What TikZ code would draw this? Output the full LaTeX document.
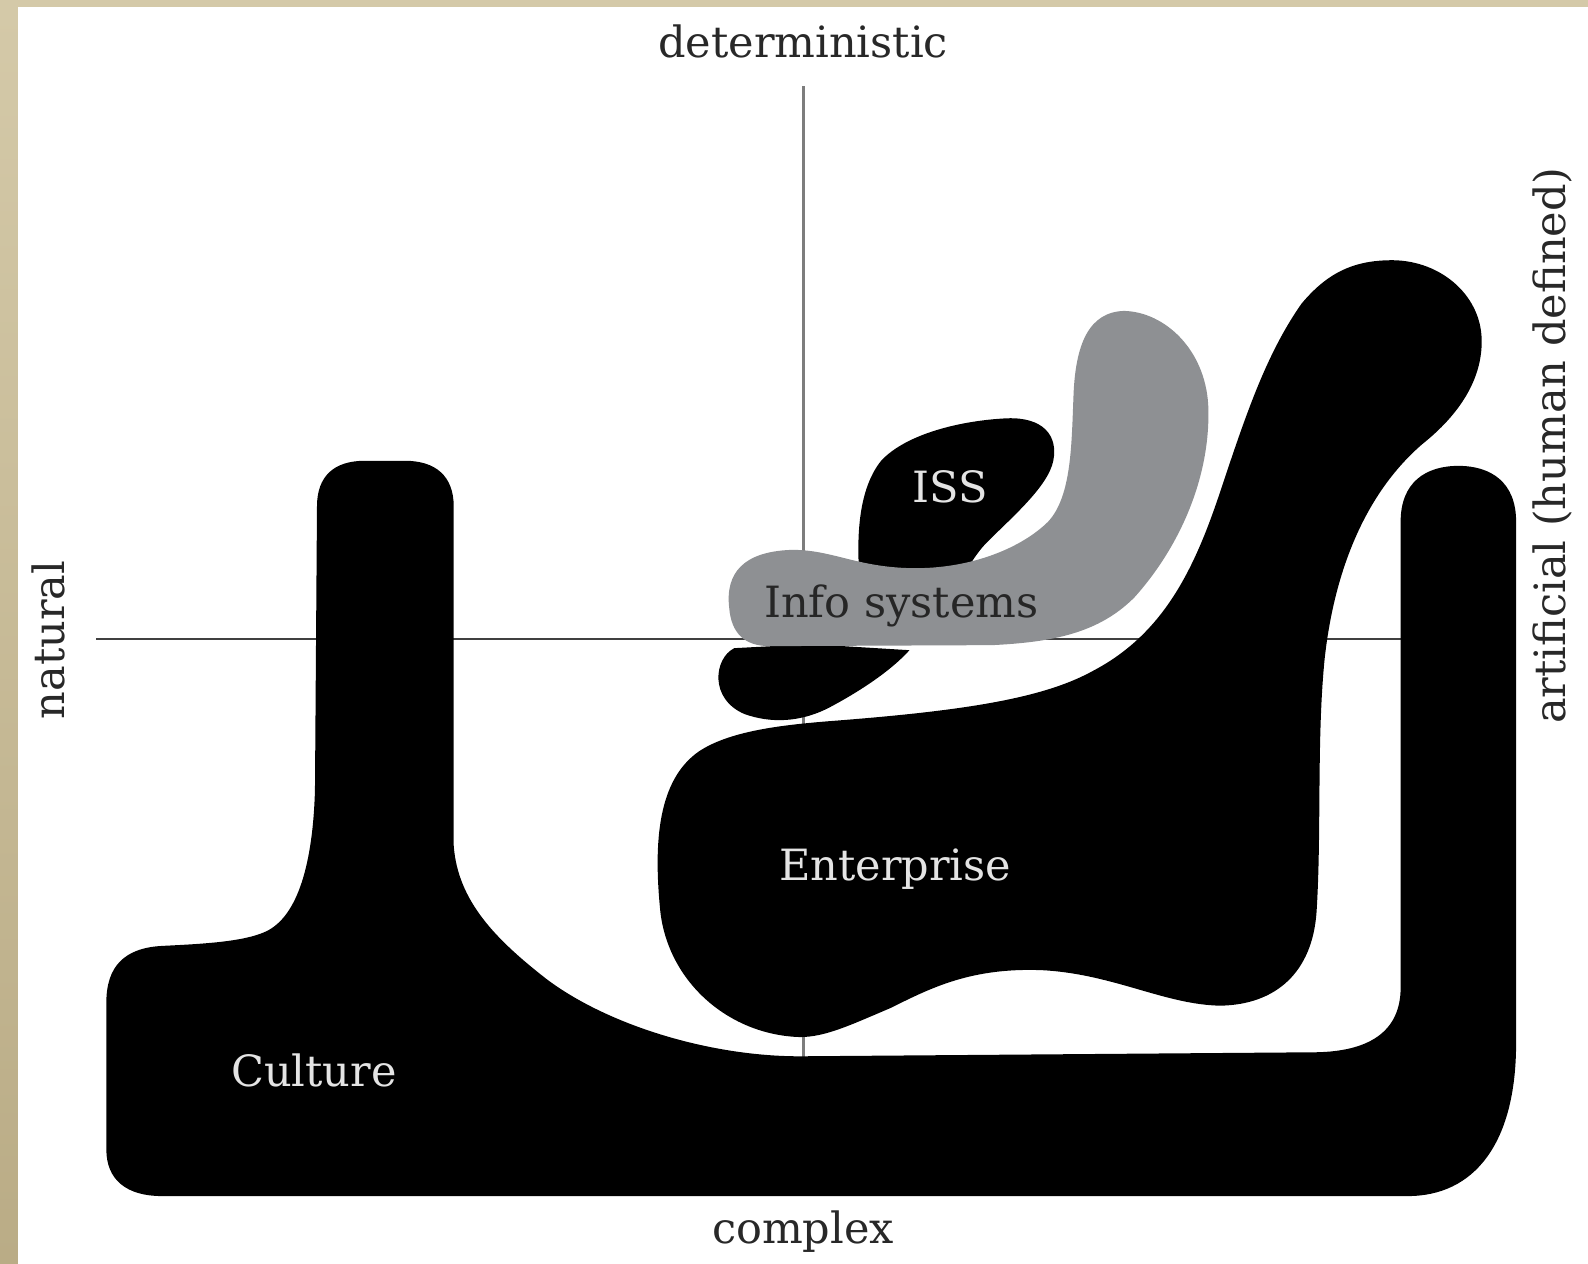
\documentclass[tikz,border=0pt]{standalone}
\usepackage{fontspec}
\setmainfont{DejaVu Serif}
\definecolor{beige}{RGB}{212,201,168}
\definecolor{beigedark}{RGB}{186,172,134}
\definecolor{blobgray}{RGB}{142,144,147}
\definecolor{axisgray}{RGB}{125,125,125}
\definecolor{labelcol}{RGB}{40,40,40}
\definecolor{intext}{RGB}{228,228,228}
\tikzset{
  blob/.style={fill=black},
  grayblob/.style={fill=blobgray},
  axislabel/.style={text=labelcol, font=\fontsize{24.5}{28}\selectfont, inner sep=0pt, anchor=base},
  inlabel/.style={text=intext, font=\fontsize{24.5}{28}\selectfont, inner sep=0pt, anchor=base},
  islabel/.style={text=black!85, font=\fontsize{24.5}{28}\selectfont, inner sep=0pt, anchor=base},
}
\begin{document}
\begin{tikzpicture}[x=0.020255cm,y=-0.020255cm]
\useasboundingbox (0,0) rectangle (1568,1248);
\fill[beige] (0,0) rectangle (1568,1248);
\shade[top color=beige,bottom color=beigedark] (0,7) rectangle (18,1248);
\fill[white] (18,7) rectangle (1568,1248);

% axes
\coordinate (vtop) at (793,85);
\coordinate (vbot) at (793,1045);
\coordinate (hl) at (95,631);
\coordinate (hr) at (1385,631);
\draw[axisgray, line width=1.6pt] (vtop) -- (vbot);
\draw[black!75, line width=1.4pt] (hl) -- (hr);

% Culture
\fill[blob] (313,500) -- (311,780)
  .. controls (309,850) and (295,905) .. (262,920)
  .. controls (240,930) and (200,932) .. (160,934)
  .. controls (122,936) and (105,955) .. (105,990)
  -- (105,1135)
  .. controls (105,1165) and (125,1181) .. (160,1181)
  -- (1390,1181)
  .. controls (1455,1181) and (1497,1130) .. (1497,1030)
  -- (1497,515)
  .. controls (1497,476) and (1472,460) .. (1440,460)
  .. controls (1408,460) and (1383,476) .. (1383,515)
  -- (1383,975)
  .. controls (1383,1020) and (1350,1038) .. (1300,1039)
  -- (790,1043)
  .. controls (700,1043) and (600,1012) .. (540,967)
  .. controls (490,928) and (452,890) .. (448,835)
  -- (448,500)
  .. controls (448,470) and (430,455) .. (400,455)
  -- (360,455)
  .. controls (330,455) and (313,470) .. (313,500) -- cycle;

% Enterprise
\fill[blob] (1370,257)
  .. controls (1420,255) and (1462,290) .. (1463,335)
  .. controls (1464,375) and (1440,410) .. (1405,438)
  .. controls (1350,485) and (1318,560) .. (1308,650)
  .. controls (1300,730) and (1305,820) .. (1300,900)
  .. controls (1296,960) and (1260,992) .. (1205,993)
  .. controls (1150,992) and (1100,962) .. (1030,958)
  .. controls (960,955) and (920,975) .. (880,995)
  .. controls (840,1012) and (815,1024) .. (790,1024)
  .. controls (720,1022) and (660,970) .. (652,900)
  .. controls (645,830) and (650,770) .. (690,742)
  .. controls (720,722) and (770,716) .. (820,712)
  .. controls (950,702) and (1030,690) .. (1080,662)
  .. controls (1150,625) and (1180,560) .. (1205,485)
  .. controls (1230,410) and (1250,350) .. (1285,300)
  .. controls (1310,270) and (1335,258) .. (1370,257) -- cycle;

% ISS
\fill[blob] (848,560)
  .. controls (846,520) and (850,480) .. (870,455)
  .. controls (895,428) and (950,415) .. (995,413)
  .. controls (1030,412) and (1045,430) .. (1040,455)
  .. controls (1035,480) and (1000,510) .. (975,535)
  .. controls (962,548) and (958,560) .. (950,565)
  -- (848,565) -- cycle;

% small blob under Info systems
\fill[blob] (725,640)
  .. controls (705,650) and (700,690) .. (735,705)
  .. controls (760,714) and (790,714) .. (820,698)
  .. controls (850,682) and (880,662) .. (898,642)
  -- (800,636) -- cycle;

% Info systems
\fill[grayblob] (720,600)
  .. controls (716,565) and (735,545) .. (780,543)
  .. controls (820,542) and (845,560) .. (900,561)
  .. controls (960,562) and (1010,540) .. (1035,515)
  .. controls (1058,490) and (1058,440) .. (1060,390)
  .. controls (1062,340) and (1075,308) .. (1110,307)
  .. controls (1150,308) and (1190,345) .. (1193,400)
  .. controls (1196,470) and (1165,540) .. (1120,590)
  .. controls (1085,625) and (1040,634) .. (980,637)
  -- (760,638)
  .. controls (735,638) and (722,625) .. (720,600) -- cycle;

% labels
\node[axislabel] (det) at (793,57) {deterministic};
\node[axislabel] (cpx) at (793,1228) {complex};
\node[axislabel, rotate=90] (nat) at (64,632) {natural};
\node[axislabel, rotate=90] (art) at (1546,440) {artificial (human defined)};
\node[inlabel] (iss) at (938,496) {ISS};
\node[islabel] (info) at (890,610) {Info systems};
\node[inlabel] (ent) at (884,869) {Enterprise};
\node[inlabel] (cul) at (310,1073) {Culture};
\end{tikzpicture}
\end{document}
